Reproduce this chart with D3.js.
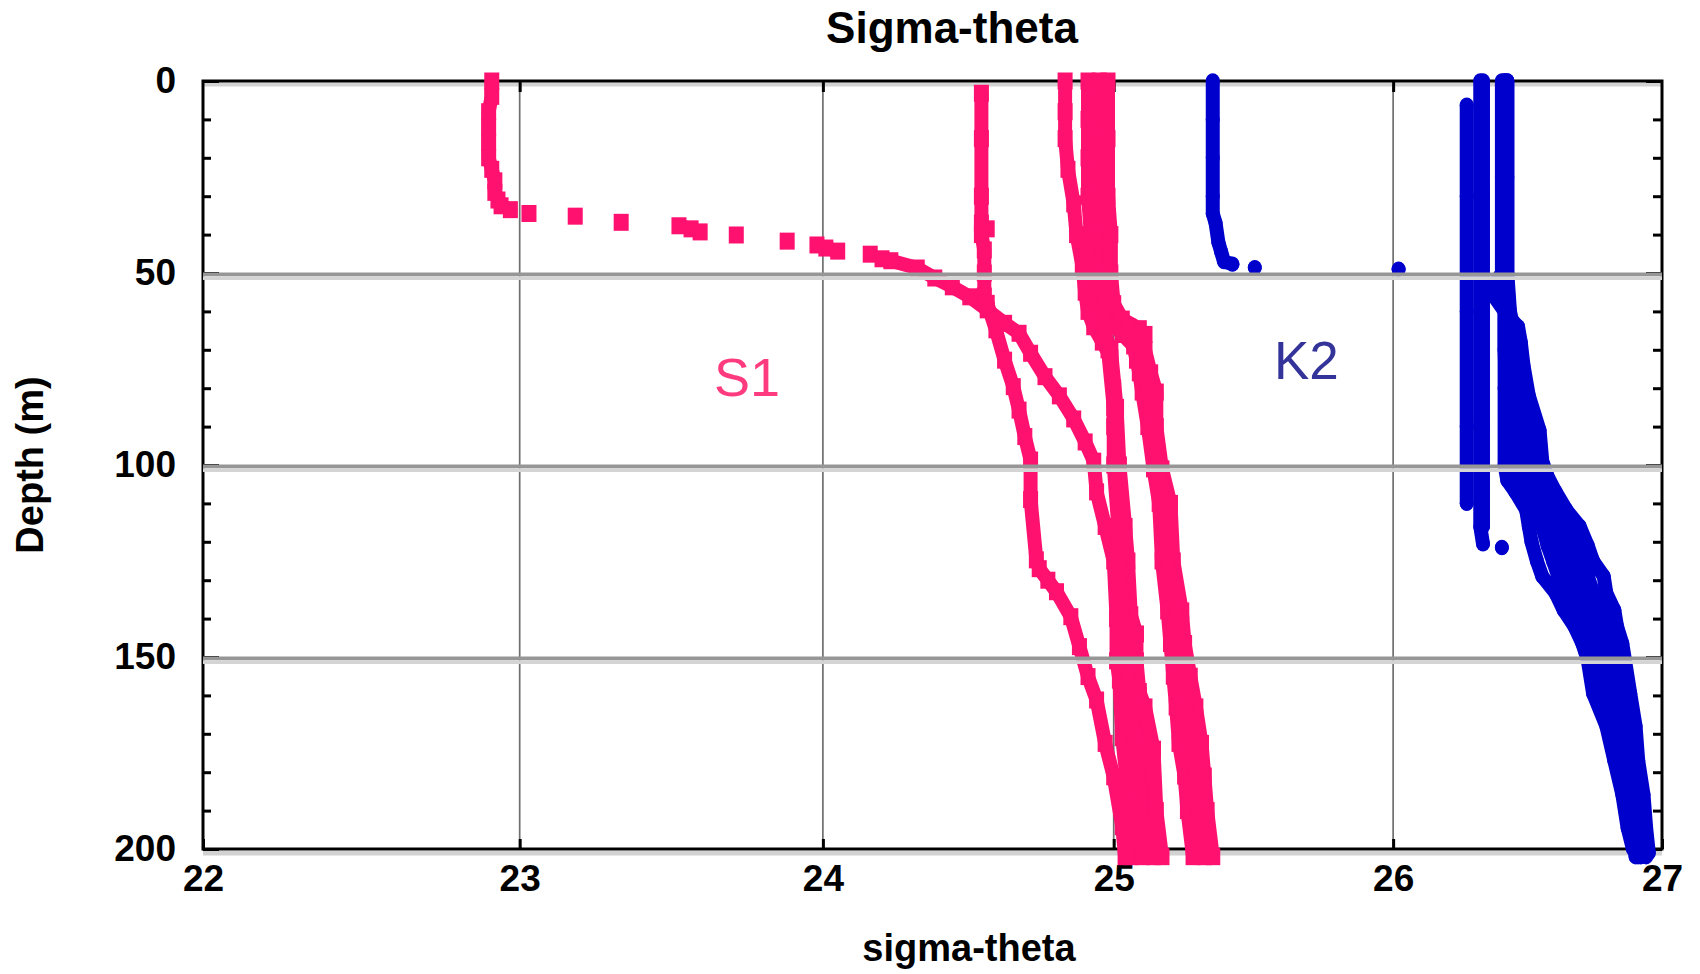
<!DOCTYPE html>
<html><head><meta charset="utf-8">
<script src="https://cdn.jsdelivr.net/npm/d3@7"></script>
<style>body{margin:0;background:#fff}svg{display:block}text{font-family:"Liberation Sans",Arial,Helvetica,sans-serif}</style>
</head><body><svg id="c" width="1700" height="974"></svg>
<script>
// ---------- tick / grid values ----------
const xTickValues = [22, 23, 24, 25, 26, 27];
const yTickValues = [0, 50, 100, 150, 200];
const yMinorTickValues = [10,20,30,40,60,70,80,90,110,120,130,140,160,170,180,190];
const gridXValues = [23, 24, 25, 26];
const gridYValues = [50, 100, 150];

// ---------- S1 casts: [depth (m), sigma-theta], null = gap between samples ----------
const s1Cast1 = [[0,22.91],[4,22.91],[8,22.90],[12,22.90],[16,22.90],[20,22.90],[23,22.91],[26,22.92],[29,22.92],[31,22.93],[32.5,22.94],[33.5,22.97],null,
  [34.5,23.03],null,[35.2,23.18],null,[36.8,23.33],null,[37.7,23.52],[38.5,23.56],[39.3,23.59],null,[40.1,23.71],null,[41.7,23.88],null,
  [42.7,23.98],[43.5,24.01],[44.3,24.05],null,[45.1,24.16],null,
  [46.3,24.20],[46.8,24.23],[48.7,24.32],[51.3,24.38],[53.6,24.44],[56.2,24.50],[59.6,24.56],[63.1,24.62],[65.7,24.67],[70.9,24.71],[77,24.76],[82,24.81],[88,24.86],[94,24.90],[99,24.93],[107,24.94],[116,24.97],[125,25.00],[140,25.01],[151,25.01],[156,25.02],[171,25.03],[185,25.05],[202,25.06]];
const s1Cast2 = [[3.2,24.54],[15,24.54],[30,24.54],[37,24.54],[38.5,24.56],[40,24.54],[44,24.55],[50,24.55],[56,24.55],[57.9,24.56],[64.8,24.59],[72.7,24.62],[79.6,24.65],[85.7,24.67],[92.6,24.69],[98.7,24.71],[109,24.71],[124.7,24.73],[127,24.74],[130,24.77],[133,24.80],[139.5,24.85],[147.3,24.88],[155.1,24.91],[161.2,24.94],[172.5,24.97],[181.2,25.00],[194.2,25.03],[202,25.04]];
const s1Cast3 = [[0,24.83],[8,24.83],[15,24.83],[23,24.84],[32,24.86],[40,24.87],[48,24.89],[55,24.90],[60,24.91],[64,24.93],[68,24.96],[72,24.99],[80,25.00],[90,25.00],[100,25.01],[110,25.02],[120,25.03],[130,25.04],[140,25.05],[150,25.07],[160,25.09],[170,25.11],[180,25.12],[190,25.13],[202,25.14]];
const s1Cast4 = [[0,24.91],[10,24.91],[20,24.91],[30,24.91],[40,24.92],[48,24.92],[55,24.92],[62,24.95],[70,24.99],[85,25.01],[100,25.02],[116,25.04],[125,25.05],[139,25.06],[144,25.08],[151,25.08],[159,25.09],[163,25.11],[174,25.14],[190,25.15],[202,25.17]];
const s1Cast5 = [[0,24.95],[15,24.95],[30,24.95],[40,24.96],[50,24.96],[58,24.97],[63,24.99],[66,25.03],[69,25.07],[72.7,25.08],[76,25.09],[81,25.10],[90,25.12],[101,25.14],[110,25.16],[125,25.17],[138,25.19],[146.5,25.20],[155,25.21],[163,25.22],[172.5,25.23],[181,25.25],[190,25.26],[202,25.28]];
const s1Cast6 = [[0,24.98],[15,24.98],[30,24.98],[40,24.99],[50,24.99],[58,25.00],[62,25.03],[64.5,25.09],[66,25.11],[70,25.11],[76,25.13],[81,25.15],[90,25.15],[101,25.17],[110,25.20],[125,25.21],[138,25.24],[146.5,25.25],[155,25.27],[163,25.29],[172.5,25.31],[181,25.32],[190,25.33],[202,25.35]];
const s1Cast7 = [[64,25.05],[66,25.10],[72,25.10],[81,25.12],[90,25.14],[101,25.16],[110,25.18],[125,25.19],[138,25.22],[146.5,25.23],[155,25.24],[163,25.25],[172.5,25.27],[181,25.29],[190,25.30],[202,25.32]];
const s1Cast8 = [[62,24.96],[70,24.98],[85,25.00],[100,25.00],[120,25.02],[140,25.03],[155,25.05],[170,25.07],[185,25.09],[202,25.10]];

// ---------- K2 casts ----------
const k2Cast1 = [[0,25.35],[10,25.35],[20,25.35],[30,25.35],[34.5,25.35],[37,25.36],[42,25.37],[44.5,25.38],[47,25.39],[47.7,25.42],null,[48.6,25.50],null,[49,26.02]];
const k2Cast2 = [[6.3,26.27],[30,26.27],[60,26.27],[90,26.27],[110,26.27]];
const k2Cast3 = [[0,26.32],[30,26.32],[60,26.32],[90,26.32],[116,26.32],[120.5,26.33]];
const k2Cast4 = [[0,26.33],[30,26.33],[60,26.33],[90,26.33],[116,26.33],null,[121.5,26.40]];
const k2Cast5 = [[0,26.40],[25,26.40],[50,26.40],[53,26.37],[56,26.37],[60,26.41],[80,26.41],[100,26.41],[104,26.42],[107,26.45],[111.7,26.49],[116,26.50],[120,26.51],[125,26.53],[129,26.55],[133.4,26.60],[137.8,26.63],[142,26.67],[146.5,26.70],[150.8,26.72],[159.5,26.74],[168,26.79],[177,26.82],[185.8,26.85],[194.5,26.87],[200,26.89]];
const k2Cast6 = [[0,26.42],[25,26.42],[50,26.42],[53,26.42],[61.6,26.43],[64,26.46],[68,26.47],[74,26.48],[82,26.50],[91,26.54],[99,26.55],[103,26.57],[107,26.60],[111.7,26.64],[116,26.69],[121,26.72],[125,26.74],[129,26.78],[133.4,26.79],[137.8,26.82],[142,26.83],[146.5,26.85],[150.8,26.86],[159.5,26.88],[168,26.90],[177,26.91],[185.8,26.93],[194.5,26.94],[201,26.95]];
const k2Cast7 = [[0,26.41],[50,26.41],[60,26.42],[70,26.44],[80,26.46],[90,26.48],[100,26.50],[107,26.53],[112,26.56],[116,26.59],[121,26.62],[125,26.64],[129,26.67],[133,26.69],[138,26.72],[142,26.75],[146.5,26.77],[151,26.79],[160,26.81],[168,26.84],[177,26.86],[186,26.89],[195,26.91],[202,26.92]];
const k2Cast8 = [[0,26.41],[50,26.41],[70,26.41],[90,26.42],[100,26.43],[107,26.48],[112,26.52],[116,26.55],[121,26.57],[125,26.59],[129,26.61],[133,26.64],[138,26.67],[142,26.71],[146.5,26.73],[151,26.75],[160,26.77],[168,26.81],[177,26.84],[186,26.87],[195,26.89],[202,26.90]];
const k2Cast9 = [[0,26.42],[50,26.42],[60,26.43],[70,26.46],[80,26.48],[90,26.51],[100,26.53],[107,26.57],[112,26.60],[116,26.64],[121,26.67],[125,26.69],[129,26.72],[133,26.74],[138,26.77],[142,26.79],[146.5,26.81],[151,26.83],[160,26.85],[168,26.87],[177,26.89],[186,26.91],[195,26.93],[202,26.94]];
const k2Cast10 = [[50,26.41],[60,26.41],[70,26.43],[80,26.44],[90,26.45],[100,26.47],[107,26.50],[112,26.54],[116,26.57],[121,26.60],[125,26.62],[129,26.64],[133,26.67],[138,26.70],[142,26.73],[146.5,26.75],[151,26.77],[160,26.79],[168,26.83],[177,26.85],[186,26.88],[195,26.90],[202,26.91]];

const s1Casts = [s1Cast1, s1Cast2, s1Cast3, s1Cast4, s1Cast5, s1Cast6, s1Cast7, s1Cast8];
const k2Casts = [k2Cast1, k2Cast2, k2Cast3, k2Cast4, k2Cast5, k2Cast6, k2Cast7, k2Cast8, k2Cast9, k2Cast10];

// ---------- drawing ----------
const PINK = "#ff1170", BLUE = "#0000cd";
const svg = d3.select("#c");
const x = d3.scaleLog().domain([22, 27]).range([203, 1662]);
const y = d3.scaleLinear().domain([0, 200]).range([81, 849]);
const X0 = x(22), X1 = x(27), Y0 = y(0), Y1 = y(200);

// vertical grid lines (under data)
svg.append("g").selectAll("line").data(gridXValues).join("line")
  .attr("x1", d => x(d)).attr("x2", d => x(d)).attr("y1", Y0).attr("y2", Y1)
  .attr("stroke", "#6f6f6f").attr("stroke-width", 1.7);

// light bands under frame lines
svg.append("rect").attr("x", X0).attr("y", Y0 + 1.5).attr("width", X1 - X0).attr("height", 4).attr("fill", "#d2d2d2");
svg.append("rect").attr("x", X0).attr("y", Y1 + 2).attr("width", X1 - X0).attr("height", 4.5).attr("fill", "#d2d2d2");

// axes
const fmt = d3.format("d");
const gB = svg.append("g").attr("transform", `translate(0,${Y1})`)
  .call(d3.axisBottom(x).tickValues(xTickValues).tickFormat(fmt).tickSize(-10));
gB.selectAll("text").attr("y", 42).attr("dy", null);
const gT = svg.append("g").attr("transform", `translate(0,${Y0})`)
  .call(d3.axisTop(x).tickValues(xTickValues.slice(1, -1)).tickFormat("").tickSize(-11));
const gL = svg.append("g").attr("transform", `translate(${X0},0)`)
  .call(d3.axisLeft(y).tickValues(yTickValues).tickFormat(fmt).tickSize(-16).tickPadding(27));
const gLm = svg.append("g").attr("transform", `translate(${X0},0)`)
  .call(d3.axisLeft(y).tickValues(yMinorTickValues).tickFormat("").tickSize(-8));
const gR = svg.append("g").attr("transform", `translate(${X1},0)`)
  .call(d3.axisRight(y).tickValues(yTickValues).tickFormat("").tickSize(-16));
const gRm = svg.append("g").attr("transform", `translate(${X1},0)`)
  .call(d3.axisRight(y).tickValues(yMinorTickValues).tickFormat("").tickSize(-9));
[gB, gT, gL, gLm, gR, gRm].forEach(g => {
  g.select(".domain").remove();
  g.selectAll(".tick line").attr("stroke", "#000").attr("stroke-width", 3);
  g.selectAll("text").attr("fill", "#000").attr("font-size", 37).attr("font-weight", "bold")
    .attr("font-family", '"Liberation Sans", Arial, sans-serif');
});

// frame
svg.append("rect").attr("x", X0).attr("y", Y0).attr("width", X1 - X0).attr("height", Y1 - Y0)
  .attr("fill", "none").attr("stroke", "#000").attr("stroke-width", 3);

// data
const line = d3.line().defined(d => d !== null).x(d => x(d[1])).y(d => y(d[0]));
const gData = svg.append("g");
s1Casts.forEach(c => {
  gData.append("path").attr("d", line(c)).attr("fill", "none").attr("stroke", PINK)
    .attr("stroke-width", 14).attr("stroke-linejoin", "round").attr("stroke-linecap", "round");
  gData.append("g").selectAll("rect").data(c.filter(d => d !== null)).join("rect")
    .attr("x", d => x(d[1]) - 7.5).attr("y", d => y(d[0]) - 8.5).attr("width", 15).attr("height", 17).attr("fill", PINK);
});
k2Casts.forEach(c => {
  gData.append("path").attr("d", line(c)).attr("fill", "none").attr("stroke", BLUE)
    .attr("stroke-width", 14).attr("stroke-linejoin", "round").attr("stroke-linecap", "round");
  gData.append("g").selectAll("ellipse").data(c.filter(d => d !== null)).join("ellipse")
    .attr("cx", d => x(d[1])).attr("cy", d => y(d[0])).attr("rx", 7).attr("ry", 7.7).attr("fill", BLUE);
});

// horizontal grid lines (drawn over the data)
const gH = svg.append("g");
gridYValues.forEach(v => {
  gH.append("rect").attr("x", X0).attr("y", y(v) - 0.5).attr("width", X1 - X0).attr("height", 3.7).attr("fill", "#969696");
  gH.append("rect").attr("x", X0).attr("y", y(v) + 3.2).attr("width", X1 - X0).attr("height", 3.8).attr("fill", "#d4d4d4");
});

// titles and labels
svg.append("text").attr("x", 952).attr("y", 43).attr("text-anchor", "middle")
  .attr("font-size", 44).attr("font-weight", "bold").attr("fill", "#000").text("Sigma-theta");
svg.append("text").attr("x", 969).attr("y", 961).attr("text-anchor", "middle")
  .attr("font-size", 38).attr("font-weight", "bold").attr("fill", "#000").text("sigma-theta");
svg.append("text").attr("transform", "translate(43,465) rotate(-90)").attr("text-anchor", "middle")
  .attr("font-size", 38).attr("font-weight", "bold").attr("fill", "#000").text("Depth (m)");
svg.append("text").attr("x", 714).attr("y", 396).attr("font-size", 54).attr("fill", "#ff3b7f").text("S1");
svg.append("text").attr("x", 1274).attr("y", 379).attr("font-size", 53).attr("fill", "#333399").text("K2");
</script></body></html>
